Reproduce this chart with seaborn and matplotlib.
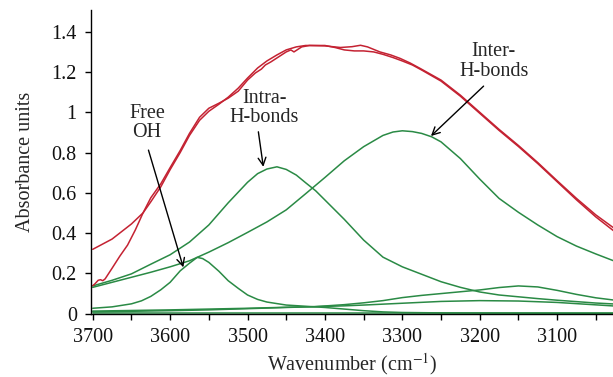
import matplotlib
matplotlib.use("Agg")
import matplotlib.pyplot as plt
import seaborn as sns
from matplotlib.ticker import FuncFormatter, MultipleLocator

# ---- data ----
intra_x = [3700, 3675, 3650, 3625, 3600, 3575, 3550, 3525, 3500, 3487, 3475, 3462, 3450, 3437, 3425, 3412,
           3400, 3375, 3350, 3325, 3300, 3275, 3250, 3225, 3200, 3175, 3150, 3125, 3100, 3075, 3050, 3025]
intra_y = [0.137, 0.165, 0.197, 0.245, 0.292, 0.355, 0.44, 0.55, 0.652, 0.695, 0.718, 0.729, 0.716, 0.688, 0.65, 0.61,
           0.564, 0.468, 0.365, 0.28, 0.232, 0.195, 0.158, 0.13, 0.107, 0.092, 0.083, 0.074, 0.066, 0.059, 0.052, 0.047]

inter_x = [3700, 3675, 3650, 3625, 3600, 3575, 3550, 3525, 3500, 3475, 3450, 3425, 3400, 3375, 3350, 3325,
           3312, 3300, 3287, 3275, 3262, 3250, 3225, 3200, 3175, 3150, 3125, 3100, 3075, 3050, 3025]
inter_y = [0.13, 0.155, 0.18, 0.205, 0.232, 0.262, 0.305, 0.352, 0.403, 0.455, 0.515, 0.595, 0.676, 0.759, 0.829, 0.885,
           0.902, 0.908, 0.904, 0.895, 0.878, 0.853, 0.77, 0.668, 0.572, 0.503, 0.44, 0.382, 0.335, 0.296, 0.259]

free_x = [3700, 3675, 3650, 3637, 3625, 3612, 3600, 3587, 3575, 3565, 3558, 3550, 3537, 3525, 3512, 3500, 3487,
          3475, 3450, 3425, 3400, 3375, 3350, 3325, 3300, 3250, 3150, 3025]
free_y = [0.026, 0.033, 0.048, 0.063, 0.085, 0.118, 0.155, 0.212, 0.25, 0.279, 0.273, 0.254, 0.21, 0.163, 0.125, 0.092, 0.07,
          0.057, 0.042, 0.036, 0.03, 0.022, 0.014, 0.008, 0.005, 0.003, 0.002, 0.001]

small_x = [3700, 3650, 3600, 3550, 3500, 3450, 3413, 3375, 3350, 3325, 3300, 3275, 3250, 3225, 3200, 3175,
           3150, 3125, 3100, 3075, 3050, 3025]
small_y = [0.012, 0.015, 0.018, 0.022, 0.026, 0.031, 0.034, 0.044, 0.053, 0.064, 0.079, 0.09, 0.099, 0.108, 0.117, 0.129,
           0.137, 0.132, 0.115, 0.095, 0.078, 0.066]

broad_x = [3700, 3650, 3600, 3550, 3500, 3450, 3413, 3375, 3350, 3300, 3250, 3200, 3150, 3100, 3050, 3025]
broad_y = [0.008, 0.011, 0.014, 0.018, 0.024, 0.03, 0.034, 0.038, 0.042, 0.051, 0.06, 0.064, 0.062, 0.055, 0.043, 0.037]

base_x = [3700, 3025]
base_y = [0.002, 0.002]

fit_x = [3700, 3675, 3650, 3635, 3625, 3612, 3600, 3587, 3575, 3562, 3550, 3537, 3525, 3512, 3500, 3487,
         3475, 3462, 3450, 3437, 3425, 3400, 3387, 3375, 3362, 3350, 3337, 3325, 3312, 3300, 3287, 3275,
         3250, 3225, 3200, 3175, 3150, 3125, 3100, 3075, 3050, 3025]
fit_y = [0.319, 0.37, 0.445, 0.50, 0.555, 0.63, 0.715, 0.80, 0.885, 0.96, 1.005, 1.04, 1.075, 1.12, 1.17, 1.22,
         1.255, 1.285, 1.31, 1.325, 1.332, 1.332, 1.322, 1.31, 1.305, 1.305, 1.30, 1.288, 1.272, 1.255, 1.235, 1.21,
         1.155, 1.08, 0.995, 0.91, 0.83, 0.745, 0.655, 0.565, 0.48, 0.405]

meas_x = [3700, 3697, 3693, 3690, 3687, 3684, 3675, 3665, 3655, 3645, 3635, 3625, 3612, 3600, 3587, 3575,
          3562, 3550, 3537, 3525, 3512, 3500, 3490, 3482, 3477, 3470, 3462, 3450, 3444, 3440, 3436, 3430,
          3420, 3400, 3380, 3365, 3354, 3345, 3329, 3315, 3303, 3290, 3277, 3250, 3225, 3200, 3175, 3150,
          3125, 3100, 3075, 3050, 3025]
meas_y = [0.138, 0.148, 0.165, 0.168, 0.163, 0.172, 0.225, 0.285, 0.34, 0.415, 0.50, 0.575, 0.645, 0.725, 0.81, 0.895,
          0.975, 1.02, 1.045, 1.07, 1.105, 1.16, 1.195, 1.215, 1.235, 1.25, 1.27, 1.30, 1.31, 1.30, 1.31, 1.325,
          1.332, 1.33, 1.322, 1.326, 1.333, 1.325, 1.30, 1.285, 1.268, 1.245, 1.218, 1.16, 1.085, 1.0, 0.915, 0.835,
          0.75, 0.66, 0.572, 0.49, 0.42]

x_ticks = [3700, 3600, 3500, 3400, 3300, 3200, 3100]
y_ticks = [0, 0.2, 0.4, 0.6, 0.8, 1.0, 1.2, 1.4]

RED = "#c42232"
GREEN = "#2a8a45"
FS = 14.5

sns.set_style("ticks")
plt.rcParams["font.family"] = ["Liberation Serif", "DejaVu Serif"]
plt.rcParams["mathtext.fontset"] = "stix"

fig = plt.figure(figsize=(6.13, 3.77), dpi=100)
ax = fig.add_axes([0.148, 0.1663, 0.852, 0.807])

for xs, ys in [(base_x, base_y), (broad_x, broad_y), (small_x, small_y), (free_x, free_y),
               (intra_x, intra_y), (inter_x, inter_y)]:
    sns.lineplot(x=xs, y=ys, ax=ax, color=GREEN, lw=1.1, estimator=None, sort=False)
for xs, ys in [(fit_x, fit_y), (meas_x, meas_y)]:
    sns.lineplot(x=xs, y=ys, ax=ax, color=RED, lw=1.1, estimator=None, sort=False)

ax.set_xlim(3702.6, 3027.8)
ax.set_ylim(-0.004, 1.508)
ax.set_xticks(x_ticks)
ax.xaxis.set_minor_locator(MultipleLocator(50))
ax.set_yticks(y_ticks)
ax.yaxis.set_major_formatter(FuncFormatter(lambda v, p: "%g" % round(v, 2)))

for s in ["top", "right"]:
    ax.spines[s].set_visible(False)
for s in ["left", "bottom"]:
    ax.spines[s].set_color("black")
    ax.spines[s].set_linewidth(1.0)
ax.tick_params(axis="both", which="both", direction="out", length=4, width=1.0,
               color="black", labelsize=FS, labelcolor="#111111")
ax.tick_params(axis="x", which="major", pad=6)
ax.tick_params(axis="y", which="major", pad=6)

ax.set_xlabel("Wavenumber (cm$^{-1}$)", fontsize=FS, labelpad=3)
ax.set_ylabel("Absorbance units", fontsize=FS, labelpad=12)

arrow = dict(arrowstyle="->,head_length=0.55,head_width=0.28", color="black", lw=1.0,
             shrinkA=0, shrinkB=0)
ax.text(3630, 0.946, "Free\nOH", ha="center", va="center", fontsize=FS, linespacing=1.05)
ax.annotate("", xy=(3583, 0.2295), xytext=(3628, 0.812), arrowprops=arrow)
ax.text(3478, 1.021, "Intra-\nH-bonds", ha="center", va="center", fontsize=FS, linespacing=1.05)
ax.annotate("", xy=(3479.6, 0.729), xytext=(3486, 0.903), arrowprops=arrow)
ax.text(3182, 1.254, "Inter-\nH-bonds", ha="center", va="center", fontsize=FS, linespacing=1.05)
ax.annotate("", xy=(3263, 0.882), xytext=(3195, 1.13), arrowprops=arrow)

fig.savefig("out.png", dpi=100)
